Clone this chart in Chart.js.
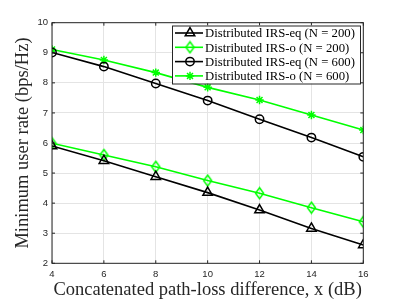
<!DOCTYPE html>
<html>
<head>
<meta charset="utf-8">
<script src="https://cdn.jsdelivr.net/npm/chart.js@4.4.0/dist/chart.umd.min.js"></script>
<style>
  html, body { margin: 0; padding: 0; background: #fff; }
  #wrap { width: 402px; height: 301px; }
</style>
</head>
<body>
<div id="wrap"><canvas id="rateChart"></canvas></div>
<script>
const xValues = [4, 6, 8, 10, 12, 14, 16];
const eq200 = [5.90, 5.41, 4.88, 4.35, 3.77, 3.16, 2.61];
const o200 = [5.99, 5.60, 5.21, 4.75, 4.33, 3.85, 3.38];
const eq600 = [9.01, 8.54, 7.98, 7.41, 6.79, 6.18, 5.54];
const o600 = [9.11, 8.76, 8.34, 7.85, 7.43, 6.93, 6.43];
const seriesNames = [
    'Distributed IRS-eq (N = 200)',
    'Distributed IRS-o (N = 200)',
    'Distributed IRS-eq (N = 600)',
    'Distributed IRS-o (N = 600)'
];
const yTicks = [2, 3, 4, 5, 6, 7, 8, 9, 10];

const GREEN = '#00ff00';
const BLACK = '#000000';
const AXIS = '#262626';
const SERIF = '"Liberation Serif", "DejaVu Serif", serif';

function pts(vals) {
    return xValues.map((x, i) => ({ x: x, y: vals[i] }));
}

// tall diamond like matlab's 'd' marker
function diamondMarker(color) {
    const c = document.createElement('canvas');
    c.width = 11; c.height = 14;
    const g = c.getContext('2d');
    g.strokeStyle = color;
    g.lineWidth = 1.5;
    g.beginPath();
    g.moveTo(5.5, 1.5); g.lineTo(9.5, 7); g.lineTo(5.5, 12.5); g.lineTo(1.5, 7);
    g.closePath();
    g.stroke();
    return c;
}

const styles = [
    { color: BLACK, pointStyle: 'triangle', radius: 5.5 },
    { color: GREEN, pointStyle: diamondMarker(GREEN), radius: 5 },
    { color: BLACK, pointStyle: 'circle', radius: 4.2 },
    { color: GREEN, pointStyle: 'star', radius: 4.2 }
];
const allData = [eq200, o200, eq600, o600];

const datasets = allData.map((vals, i) => ({
    label: seriesNames[i],
    data: pts(vals),
    borderColor: styles[i].color,
    backgroundColor: 'rgba(0,0,0,0)',
    borderWidth: 1.6,
    pointStyle: styles[i].pointStyle,
    pointRadius: styles[i].radius,
    pointBorderColor: styles[i].color,
    pointBackgroundColor: 'rgba(0,0,0,0)',
    pointBorderWidth: 1.5,
    tension: 0
}));

// axes box, inward ticks and the legend box inside the plot
const framePlugin = {
    id: 'frame',
    afterDatasetsDraw(chart) {
        const ctx = chart.ctx;
        const a = chart.chartArea;
        const xs = chart.scales.x, ys = chart.scales.y;
        ctx.save();
        ctx.strokeStyle = AXIS;
        ctx.lineWidth = 1;
        ctx.strokeRect(a.left, a.top, a.right - a.left, a.bottom - a.top);
        ctx.beginPath();
        xValues.forEach(v => {
            const px = xs.getPixelForValue(v);
            ctx.moveTo(px, a.bottom); ctx.lineTo(px, a.bottom - 3);
            ctx.moveTo(px, a.top); ctx.lineTo(px, a.top + 3);
        });
        yTicks.forEach(v => {
            const py = ys.getPixelForValue(v);
            ctx.moveTo(a.left, py); ctx.lineTo(a.left + 3, py);
            ctx.moveTo(a.right, py); ctx.lineTo(a.right - 3, py);
        });
        ctx.stroke();

        // legend
        const lx = 172, ly = 25.5, lw = 188, lh = 58;
        ctx.fillStyle = '#fff';
        ctx.fillRect(lx, ly, lw, lh);
        ctx.strokeStyle = AXIS;
        ctx.strokeRect(lx + 0.5, ly + 0.5, lw, lh);
        // size the font so the longest entry is about 150px, as in the original
        ctx.font = '12px ' + SERIF;
        const w = ctx.measureText(seriesNames[0]).width;
        ctx.font = (12 * 150 / w).toFixed(2) + 'px ' + SERIF;
        ctx.textBaseline = 'middle';
        seriesNames.forEach((name, i) => {
            const cy = ly + 7.5 + i * 14.3;
            const st = styles[i];
            ctx.strokeStyle = st.color;
            ctx.lineWidth = 1.6;
            ctx.beginPath();
            ctx.moveTo(lx + 3, cy); ctx.lineTo(lx + 31, cy);
            ctx.stroke();
            ctx.fillStyle = 'rgba(0,0,0,0)';
            ctx.lineWidth = 1.5;
            Chart.helpers.drawPoint(ctx, {
                pointStyle: st.pointStyle, radius: st.radius, rotation: 0,
                borderWidth: 1.5
            }, lx + 18, cy);
            ctx.fillStyle = '#000';
            ctx.fillText(name, lx + 33, cy + 1);
        });
        ctx.restore();
    }
};

const ctx = document.getElementById('rateChart').getContext('2d');
const rateChart = new Chart(ctx, {
    type: 'line',
    data: { datasets: datasets },
    options: {
        responsive: true,
        maintainAspectRatio: false,
        animation: false,
        layout: { padding: { left: 0, right: 38.7, top: 22.7, bottom: 0 } },
        plugins: {
            legend: { display: false },
            tooltip: { enabled: false }
        },
        scales: {
            x: {
                type: 'linear',
                min: 4, max: 16,
                afterBuildTicks(scale) { scale.ticks = xValues.map(v => ({ value: v })); },
                afterFit(scale) { scale.height = 37.7; },
                grid: { color: '#e4e4e4', drawTicks: false },
                border: { display: false },
                ticks: { color: AXIS, padding: 5, font: { family: 'Liberation Sans, Arial, sans-serif', size: 9.5 }, maxRotation: 0 },
                title: {
                    display: true,
                    text: 'Concatenated path-loss difference, x (dB)',
                    color: AXIS,
                    font: { family: SERIF, size: 18.5 },
                    padding: { top: 0, bottom: 0 }
                }
            },
            y: {
                min: 2, max: 10,
                afterBuildTicks(scale) { scale.ticks = yTicks.map(v => ({ value: v })); },
                afterFit(scale) { scale.width = 52; },
                grid: { color: '#e4e4e4', drawTicks: false },
                border: { display: false },
                ticks: { color: AXIS, padding: 4, font: { family: 'Liberation Sans, Arial, sans-serif', size: 9.5 } },
                title: {
                    display: true,
                    text: 'Minimum user rate (bps/Hz)',
                    color: AXIS,
                    font: { family: SERIF, size: 18.5 },
                    padding: { top: 12, bottom: 0 }
                }
            }
        }
    },
    plugins: [framePlugin]
});
</script>
</body>
</html>
